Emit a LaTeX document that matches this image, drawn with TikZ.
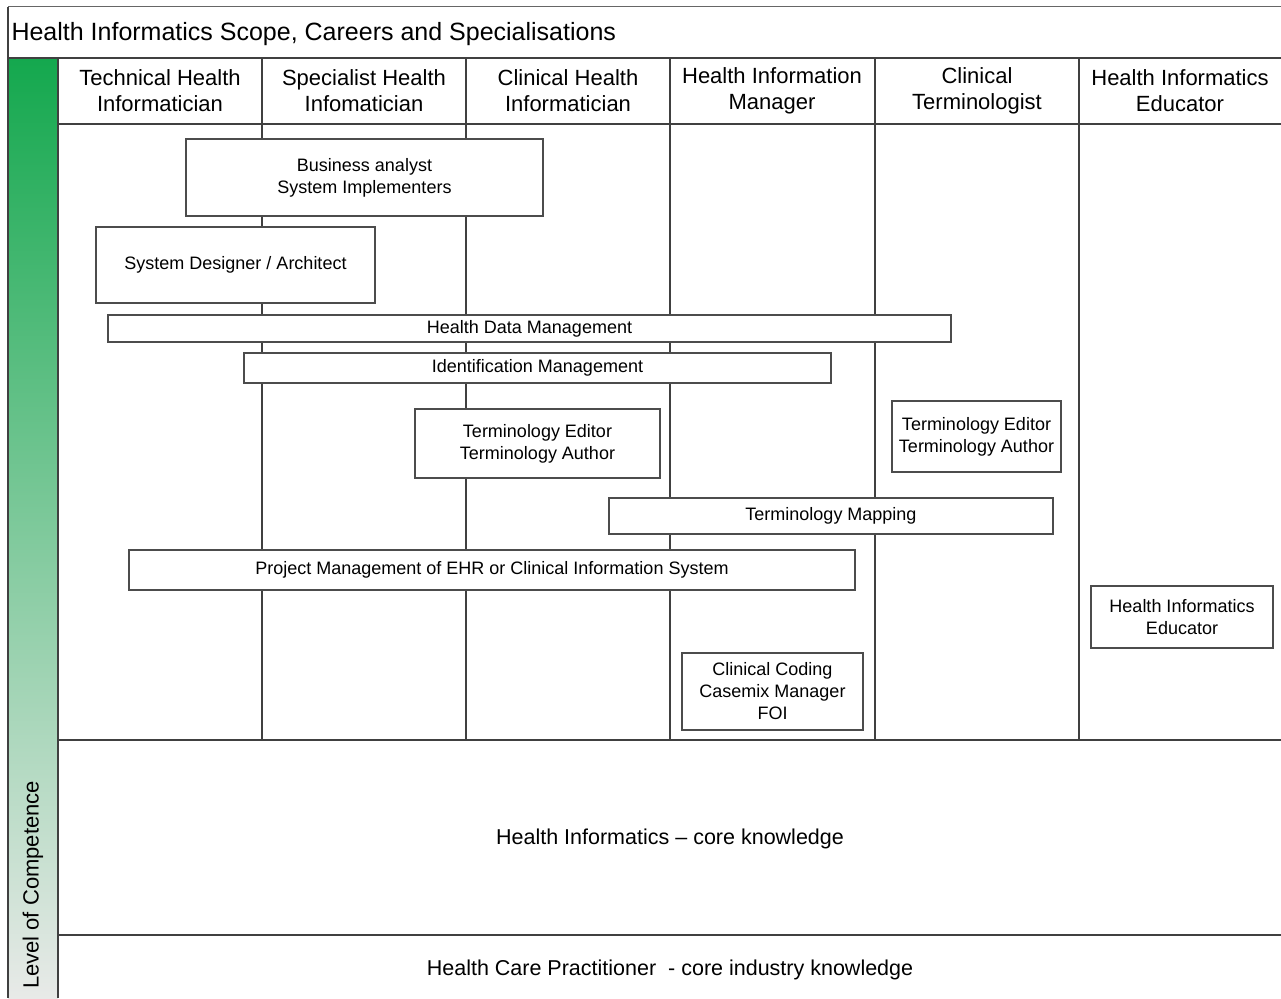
\documentclass[tikz,border=0pt]{standalone}
\usepackage{fontspec}
\setmainfont{Liberation Sans}
\usetikzlibrary{positioning}

\definecolor{bargreen}{RGB}{20,168,78}
\definecolor{barmint}{RGB}{140,212,168}
\definecolor{bargrey}{RGB}{232,234,232}

\begin{document}
\begin{tikzpicture}[x=1pt,y=-1pt,
frame line/.style={draw=black!75,line width=1.6pt},
head node/.style={align=center,font=\fontsize{22}{26}\selectfont},
role node/.style={draw=black!70,line width=1.2pt,fill=white,align=center,inner sep=0pt,
  font=\fontsize{18}{22}\selectfont},
core node/.style={font=\fontsize{21.5}{25}\selectfont}]

\useasboundingbox (0,0) rectangle (1281,998);

% competence bar
\shade[top color=bargreen,middle color=barmint,bottom color=bargrey] (8,58) rectangle (58,998);
\node[rotate=90,font=\fontsize{22}{26}\selectfont] (loc) at (33,885) {Level of Competence};

% frame and grid
\draw[draw=black!60,line width=1pt] (8,7) -- (1281,7);
\draw[frame line] (8,7) -- (8,998);
\draw[frame line] (8,58) -- (1281,58);
\draw[frame line] (58,58) -- (58,998);
\draw[frame line] (58,124) -- (1281,124);
\draw[frame line] (58,740) -- (1281,740);
\draw[frame line,line width=2.6pt] (58,935) -- (1281,935);
\foreach \x in {262,466,670,875,1079}
  \draw[frame line] (\x,58) -- (\x,740);

\node[anchor=west,font=\fontsize{25}{29}\selectfont] (title) at (8,34) {Health Informatics Scope, Careers and Specialisations};

% column heads
\node[head node] (thi) at (160,90.5) {Technical Health\\Informatician};
\node[head node] (shi) at (364,90.5) {Specialist Health\\Infomatician};
\node[head node] (chi) at (568,90.5) {Clinical Health\\Informatician};
\node[head node] (him) at (772,90.5) {Health Information\\Manager};
\node[head node] (ct) at (977,90.5) {Clinical\\Terminologist};
\node[head node] (hie) at (1180,90.5) {Health Informatics\\Educator};

% roles
\node[role node,minimum width=357,minimum height=77] (ba) at (364.5,177.5) {Business analyst\\System Implementers};
\node[role node,minimum width=279,minimum height=76] (sda) at (235.5,265) {System Designer / Architect};
\node[role node,minimum width=843,minimum height=27] (hdm) at (529.5,328.5) {Health Data Management};
\node[role node,minimum width=587,minimum height=30] (idm) at (537.5,368) {Identification Management};
\node[role node,minimum width=245,minimum height=69] (tea) at (537.5,443.5) {Terminology Editor\\Terminology Author};
\node[role node,minimum width=169,minimum height=71] (teb) at (976.5,436.5) {Terminology Editor\\Terminology Author};
\node[role node,minimum width=444,minimum height=36] (tm) at (831,516) {Terminology Mapping};
\node[role node,minimum width=726,minimum height=40] (pm) at (492,570) {Project Management of EHR or Clinical Information System};
\node[role node,minimum width=182,minimum height=62] (edu) at (1182,617) {Health Informatics\\Educator};
\node[role node,minimum width=181,minimum height=77] (cc) at (772.5,691.5) {Clinical Coding\\Casemix Manager\\FOI};

% core levels
\node[core node] (hik) at (670,839) {Health Informatics -- core knowledge};
\node[core node] (hcp) at (670,970) {Health Care Practitioner\ \ - core industry knowledge};
\end{tikzpicture}
\end{document}
